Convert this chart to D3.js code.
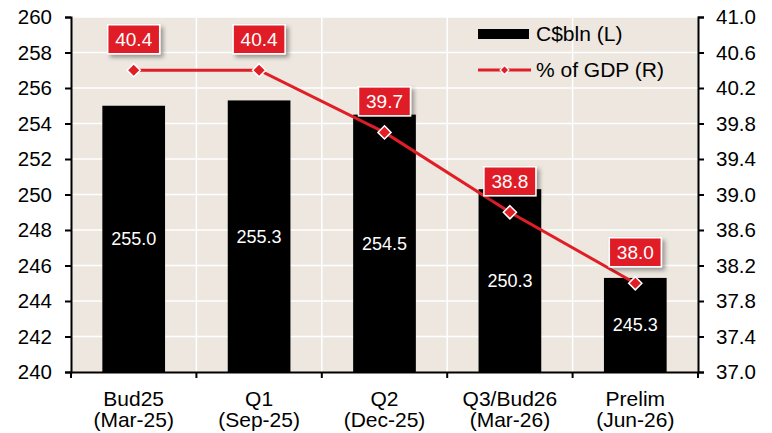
<!DOCTYPE html>
<html>
<head>
<meta charset="utf-8">
<script src="https://cdn.jsdelivr.net/npm/d3@7"></script>
<style>
  body { margin: 0; background: #fff; }
  svg { font-family: "Liberation Sans", Arial, sans-serif; }
</style>
</head>
<body>
<div id="chart"></div>
<script>
const categories = [["Bud25", "(Mar-25)"], ["Q1", "(Sep-25)"], ["Q2", "(Dec-25)"], ["Q3/Bud26", "(Mar-26)"], ["Prelim", "(Jun-26)"]];
const debtValues = [255.0, 255.3, 254.5, 250.3, 245.3];
const gdpShare = [40.4, 40.4, 39.7, 38.8, 38.0];
const leftTicks = d3.range(240, 261, 2);
const rightTicks = d3.range(37.0, 41.01, 0.4);

const W = 772, H = 433;
const margin = { top: 17, right: 74, bottom: 61, left: 71 };
const width = W - margin.left - margin.right;
const height = H - margin.top - margin.bottom;

const RED = "#e01e26";
const BG = "#ede7e0";

const svg = d3.select("#chart").append("svg")
    .attr("width", W).attr("height", H);

const defs = svg.append("defs");
const shadow = defs.append("filter").attr("id", "shadow")
    .attr("x", "-30%").attr("y", "-30%").attr("width", "170%").attr("height", "170%");
shadow.append("feDropShadow").attr("dx", 3).attr("dy", 3).attr("stdDeviation", 2)
    .attr("flood-color", "#000").attr("flood-opacity", 0.35);

const g = svg.append("g").attr("transform", `translate(${margin.left},${margin.top})`);

const x = d3.scaleBand().domain(d3.range(categories.length)).range([0, width]);
const yL = d3.scaleLinear().domain([240, 260]).range([height, 0]);
const yR = d3.scaleLinear().domain([37, 41]).range([height, 0]);

g.append("rect").attr("width", width).attr("height", height).attr("fill", BG);

// gridlines
g.append("g").selectAll("line").data(leftTicks.slice(1)).join("line")
    .attr("x1", 0).attr("x2", width)
    .attr("y1", d => yL(d)).attr("y2", d => yL(d))
    .attr("stroke", "#fff").attr("stroke-width", 1.5);
g.append("g").selectAll("line").data(d3.range(1, categories.length)).join("line")
    .attr("x1", d => x(d)).attr("x2", d => x(d))
    .attr("y1", 0).attr("y2", height)
    .attr("stroke", "#fff").attr("stroke-width", 1.5);

// bars
const barW = x.bandwidth() * 0.5;
g.append("g").selectAll("rect").data(debtValues).join("rect")
    .attr("x", (d, i) => x(i) + (x.bandwidth() - barW) / 2)
    .attr("y", d => yL(d))
    .attr("width", barW)
    .attr("height", d => height - yL(d))
    .attr("fill", "#000");

g.append("g").selectAll("text").data(debtValues).join("text")
    .attr("x", (d, i) => x(i) + x.bandwidth() / 2)
    .attr("y", d => (yL(d) + height) / 2)
    .attr("dy", "0.35em")
    .attr("text-anchor", "middle")
    .attr("fill", "#fff")
    .style("font-size", "18px")
    .text(d => d.toFixed(1));

// line
const cx = i => x(i) + x.bandwidth() / 2;
g.append("path").datum(gdpShare)
    .attr("fill", "none").attr("stroke", RED).attr("stroke-width", 3)
    .attr("d", d3.line().x((d, i) => cx(i)).y(d => yR(d)));

const diamond = d3.symbol().type(d3.symbolDiamond2).size(110);
g.append("g").selectAll("path").data(gdpShare).join("path")
    .attr("transform", (d, i) => `translate(${cx(i)},${yR(d)})`)
    .attr("d", diamond)
    .attr("fill", RED).attr("stroke", "#fff").attr("stroke-width", 1.5);

// value boxes
const boxes = g.append("g").selectAll("g").data(gdpShare).join("g")
    .attr("transform", (d, i) => `translate(${cx(i)},${yR(d) - 31})`);
boxes.append("rect")
    .attr("x", -26).attr("y", -14.5).attr("width", 52).attr("height", 29)
    .attr("fill", RED).attr("stroke", "#fff").attr("stroke-width", 1.5)
    .attr("filter", "url(#shadow)");
boxes.append("text")
    .attr("text-anchor", "middle").attr("dy", "0.36em")
    .attr("fill", "#fff").style("font-size", "19px")
    .text(d => d.toFixed(1));

// axes
const axisL = g.append("g")
    .call(d3.axisLeft(yL).tickValues(leftTicks).tickSize(6).tickPadding(13).tickFormat(d3.format("d")));
const axisR = g.append("g").attr("transform", `translate(${width},0)`)
    .call(d3.axisRight(yR).tickValues(rightTicks).tickSize(6).tickPadding(12).tickFormat(d3.format(".1f")));
const axisB = g.append("g").attr("transform", `translate(0,${height})`)
    .call(d3.axisBottom(x).tickSize(0).tickFormat(""));
axisB.append("g").selectAll("line").data(d3.range(0, categories.length + 1)).join("line")
    .attr("x1", d => d * x.step()).attr("x2", d => d * x.step())
    .attr("y1", 0).attr("y2", 6).attr("stroke", "#000").attr("stroke-width", 2);

[axisL, axisR, axisB].forEach(a => {
    a.select(".domain").attr("stroke", "#000").attr("stroke-width", 2);
    a.selectAll(".tick line").attr("stroke", "#000").attr("stroke-width", 2);
    a.selectAll(".tick text").attr("fill", "#000").style("font-size", "20.5px").style("font-family", "Liberation Sans, Arial, sans-serif");
});

const xl = g.append("g").selectAll("text").data(categories).join("text")
    .attr("x", (d, i) => cx(i)).attr("y", height + 34)
    .attr("text-anchor", "middle").style("font-size", "21px").attr("fill", "#000");
xl.append("tspan").attr("x", (d, i) => cx(i)).text(d => d[0]);
xl.append("tspan").attr("x", (d, i) => cx(i)).attr("dy", 21).text(d => d[1]);

// legend
const leg = g.append("g").attr("transform", `translate(${478 - margin.left},${34 - margin.top})`);
leg.append("rect").attr("x", 0).attr("y", -5).attr("width", 51).attr("height", 10).attr("fill", "#000");
leg.append("text").attr("x", 58).attr("dy", "0.35em").style("font-size", "21px").text("C$bln (L)");
leg.append("line").attr("x1", 0).attr("x2", 53).attr("y1", 36).attr("y2", 36)
    .attr("stroke", RED).attr("stroke-width", 3);
leg.append("path").attr("transform", "translate(26.5,36)")
    .attr("d", d3.symbol().type(d3.symbolDiamond2).size(50))
    .attr("fill", RED).attr("stroke", "#fff").attr("stroke-width", 1.2);
leg.append("text").attr("x", 58).attr("y", 36).attr("dy", "0.35em").style("font-size", "21px").text("% of GDP (R)");
</script>
</body>
</html>
